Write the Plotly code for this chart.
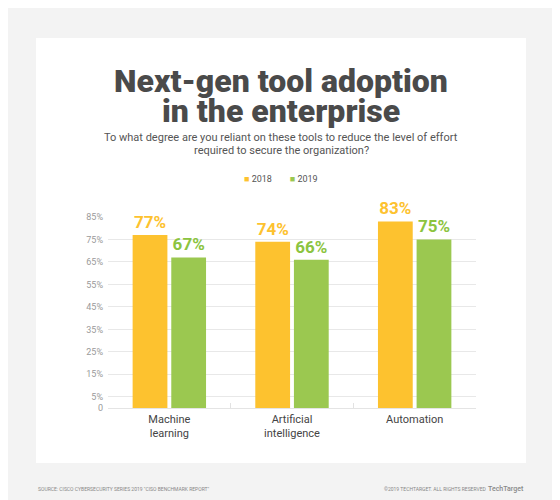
import plotly.graph_objects as go

# data
categories = ['Machine<br>learning', 'Artificial<br>intelligence', 'Automation']
values_2018 = [77, 74, 83]
values_2019 = [67, 66, 75]
tick_vals = [0, 5, 15, 25, 35, 45, 55, 65, 75, 85]
tick_text = ['0', '5%', '15%', '25%', '35%', '45%', '55%', '65%', '75%', '85%']

orange = '#FDC22F'
green = '#9BC850'

# the page puts the figure 8px in from the top-left corner,
# so the figure is 8px smaller and positions are given in window pixels
OFF = 8
W, H = 560 - OFF, 500 - OFF
# plot area in window pixels: x 108..476, y 217..408
L, R, T, B = 108 - OFF, 560 - 476, 217 - OFF, 500 - 408
pw, ph = W - L - R, H - T - B


def px(x):
    return (x - OFF - L) / pw


def py(y):
    return (H - B - (y - OFF)) / ph


def label(text, x, y, size, color, xanchor='center', weight=400):
    return dict(text=text, xref='paper', yref='paper', x=px(x), y=py(y),
                xanchor=xanchor, yanchor='middle', showarrow=False,
                font=dict(size=size, color=color, weight=weight))


fig = go.Figure()
fig.add_trace(go.Bar(
    x=categories, y=values_2018, name='2018',
    marker=dict(color=orange, line=dict(width=0)),
    text=[f'{v}%' for v in values_2018], textposition='outside',
    textfont=dict(color=orange, size=17, family='Roboto', weight=700),
    cliponaxis=False,
))
fig.add_trace(go.Bar(
    x=categories, y=values_2019, name='2019',
    marker=dict(color=green, line=dict(width=0)),
    text=[f'{v}%' for v in values_2019], textposition='outside',
    textfont=dict(color='#8CC43F', size=17, family='Roboto', weight=700),
    cliponaxis=False,
))

legend_text = (f'<span style="color:{orange}">■</span> 2018'
               f'        <span style="color:{green}">■</span> 2019')

fig.update_layout(
    width=W, height=H,
    margin=dict(l=L, r=R, t=T, b=B),
    paper_bgcolor='#f3f3f3',
    plot_bgcolor='white',
    barmode='group',
    bargap=0.37,
    bargroupgap=0.1,
    font=dict(family='Roboto', color='#444'),
    showlegend=False,
    xaxis=dict(
        showgrid=False, showline=False,
        ticks='inside', tickson='boundaries', ticklen=5, tickcolor='#e2e2e2',
        tickfont=dict(size=11, color='#444'), ticklabelstandoff=3,
    ),
    yaxis=dict(
        range=[0, 85], tickvals=tick_vals, ticktext=tick_text,
        showgrid=True, gridcolor='#e8e8e8', gridwidth=1,
        zeroline=True, zerolinecolor='#e4e4e4', zerolinewidth=1,
        tickfont=dict(size=9, color='#9a9a9a'), ticklabelstandoff=4,
    ),
    shapes=[dict(
        type='rect', xref='paper', yref='paper', layer='below',
        x0=px(36), x1=px(526), y0=py(463), y1=py(38),
        fillcolor='white', line=dict(width=0),
    )],
    annotations=[
        label('Next-gen tool adoption', 281, 81, 32, '#4a4a4a', weight=900),
        label('in the enterprise', 281, 111, 32, '#4a4a4a', weight=900),
        label('To what degree are you reliant on these tools to reduce the level of effort',
              281, 137, 11, '#555'),
        label('required to secure the organization?', 281, 150, 11, '#555'),
        label(legend_text, 281, 179, 9, '#555'),
        label('SOURCE: CISCO CYBERSECURITY SERIES 2019 "CISO BENCHMARK REPORT"',
              36, 489, 5, '#888', xanchor='left'),
        label('©2019 TECHTARGET. ALL RIGHTS RESERVED', 488, 489, 5, '#888', xanchor='right'),
        label('TechTarget', 526, 489, 7, '#888', xanchor='right', weight=500),
    ],
)

fig.write_html('out.html')
